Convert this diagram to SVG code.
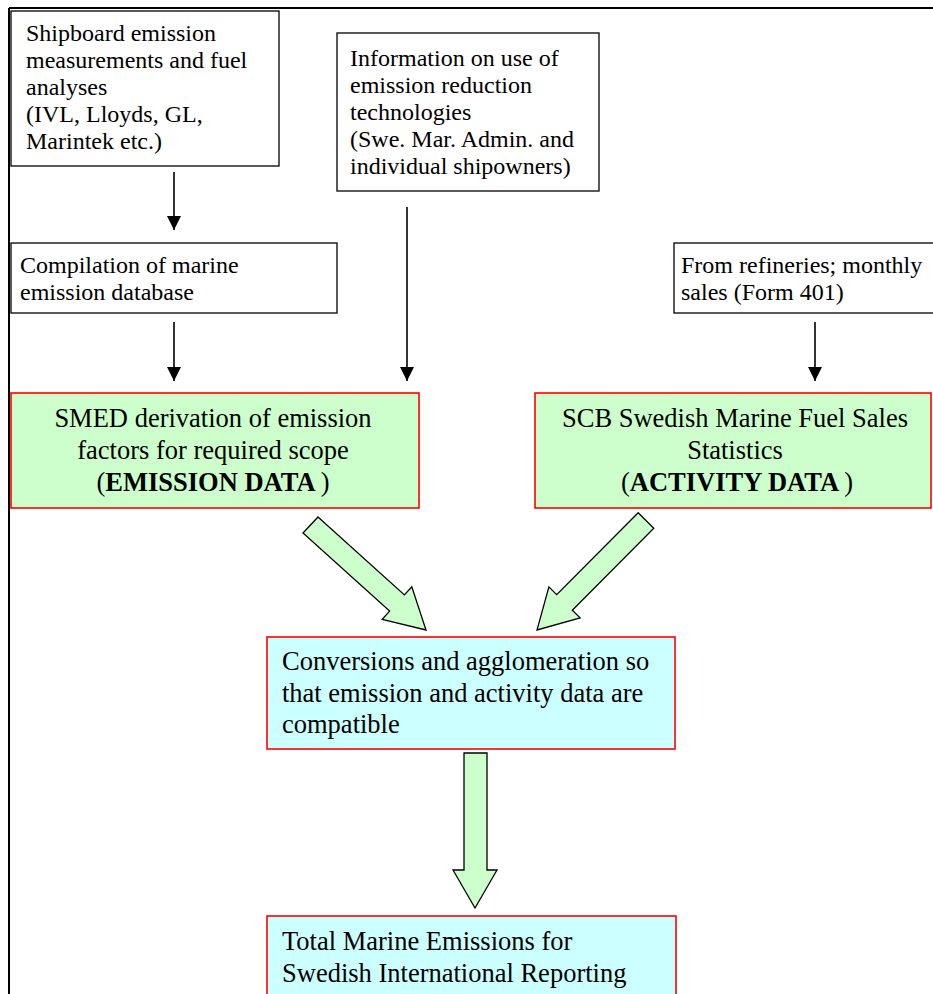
<svg xmlns="http://www.w3.org/2000/svg" width="933" height="994" viewBox="0 0 933 994">
<defs>
<style>
.t{font-family:"Liberation Serif","Times New Roman",serif;fill:#000}
.s{font-size:24px}
.l{font-size:26.5px}
.wb{fill:#fff;stroke:#000;stroke-width:1.3}
.gb{fill:#ccffcc;stroke:#ff0000;stroke-width:1.6}
.cb{fill:#ccffff;stroke:#ff0000;stroke-width:1.6}
.ln{stroke:#000;stroke-width:1.6;fill:none}
.blk{fill:#ccffcc;stroke:#000;stroke-width:1.3;stroke-linejoin:miter}
</style>
<marker id="ah" viewBox="0 0 10 10" refX="10" refY="5" markerWidth="14" markerHeight="14" markerUnits="userSpaceOnUse" orient="auto">
<path d="M0,0 L10,5 L0,10 z" fill="#000"/>
</marker>
</defs>
<rect x="0" y="0" width="933" height="994" fill="#fff"/>
<g id="frame">
<path d="M9,8 L940,8 M9,8 L9,1000" stroke="#000" stroke-width="2" fill="none"/>
</g>
<g id="n1">
<rect class="wb" x="11" y="11" width="268" height="155"/>
<text class="t s" x="26"><tspan x="26" y="41">Shipboard emission</tspan><tspan x="26" y="68">measurements and fuel</tspan><tspan x="26" y="95">analyses</tspan><tspan x="26" y="122">(IVL, Lloyds, GL,</tspan><tspan x="26" y="149">Marintek etc.)</tspan></text>
</g>
<g id="n2">
<rect class="wb" x="337" y="33" width="262" height="158"/>
<text class="t s"><tspan x="350" y="66">Information on use of</tspan><tspan x="350" y="93">emission reduction</tspan><tspan x="350" y="120">technologies</tspan><tspan x="350" y="147">(Swe. Mar. Admin. and</tspan><tspan x="350" y="174">individual shipowners)</tspan></text>
</g>
<g id="n3">
<rect class="wb" x="11" y="243" width="326" height="70"/>
<text class="t s"><tspan x="20" y="273">Compilation of marine</tspan><tspan x="20" y="300">emission database</tspan></text>
</g>
<g id="n4">
<rect class="wb" x="674" y="243" width="270" height="70"/>
<text class="t s"><tspan x="681" y="273">From refineries; monthly</tspan><tspan x="681" y="300">sales (Form 401)</tspan></text>
</g>
<g id="n5">
<rect class="gb" x="11" y="393" width="408" height="115"/>
<text class="t l" text-anchor="middle"><tspan x="213" y="427">SMED derivation of emission</tspan><tspan x="213" y="459">factors for required scope</tspan><tspan x="213" y="491">(<tspan font-weight="bold">EMISSION DATA </tspan>)</tspan></text>
</g>
<g id="n6">
<rect class="gb" x="535" y="393" width="396" height="115"/>
<text class="t l" text-anchor="middle"><tspan x="735" y="427">SCB Swedish Marine Fuel Sales</tspan><tspan x="735" y="459">Statistics</tspan><tspan x="737" y="491">(<tspan font-weight="bold">ACTIVITY DATA </tspan>)</tspan></text>
</g>
<g id="n7">
<rect class="cb" x="267" y="637" width="408" height="112"/>
<text class="t l"><tspan x="282" y="670">Conversions and agglomeration so</tspan><tspan x="282" y="702">that emission and activity data are</tspan><tspan x="282" y="733">compatible</tspan></text>
</g>
<g id="n8">
<rect class="cb" x="267" y="916" width="409" height="90"/>
<text class="t l"><tspan x="282" y="950">Total Marine Emissions for</tspan><tspan x="282" y="982">Swedish International Reporting</tspan></text>
</g>
<g id="connectors">
<line class="ln" x1="174" y1="172" x2="174" y2="230" marker-end="url(#ah)"/>
<line class="ln" x1="407" y1="207" x2="407" y2="381" marker-end="url(#ah)"/>
<line class="ln" x1="174" y1="322" x2="174" y2="381" marker-end="url(#ah)"/>
<line class="ln" x1="815" y1="322" x2="815" y2="381" marker-end="url(#ah)"/>
<polygon class="blk" points="318,517 404.4,594.9 411.8,586.7 426,630 382.2,619.3 389.6,611.1 303,533"/>
<polygon class="blk" points="638.2,512.7 653.8,528.3 572.3,610.2 580.1,617.9 537,630 548.9,586.9 556.7,594.6"/>
<polygon class="blk" points="464,753 487,753 487,870 497,870 475,908 453,870 464,870"/>
</g>
</svg>
